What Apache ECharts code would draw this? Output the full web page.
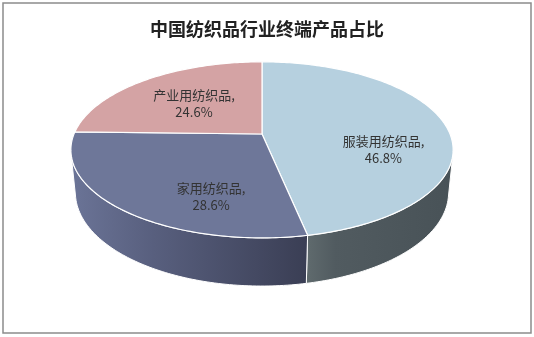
<!DOCTYPE html>
<html><head><meta charset="utf-8">
<script src="https://cdn.jsdelivr.net/npm/echarts@6/dist/echarts.min.js"></script>
<style>html,body{margin:0;padding:0;background:#fff}#c{width:534px;height:337px}</style>
</head><body><div id="c"></div>
<script>
// ---- data ----
const chartTitle = '中国纺织品行业终端产品占比';
const categories = ['服装用纺织品', '家用纺织品', '产业用纺织品'];
const values = [46.8, 28.6, 24.6];

// ---- style config ----
const topColors = ['#b6d0df', '#6e7799', '#d4a3a4'];
const wallStops = [
  [[0, '#606b6e'], [0.2, '#515b60'], [1, '#485257']],
  [[0, '#6b7497'], [0.35, '#585f7e'], [1, '#3a3e54']],
  [[0, '#a07a7b'], [1, '#7a5a5b']]
];
const labelRadius = [0.65, 0.69, 0.54];
const labelShift = [21.6, -19.7, -1.4];
const V = { cx: 262, cy: 134, scale: 188, tiltSin: 0.453, dist: 4.95, height: 0.257 };
const FONT = '"Noto Sans CJK SC", "Noto Sans", sans-serif';

function proj(r, alphaDeg, yw) {
  const al = alphaDeg * Math.PI / 180;
  const a = r * Math.sin(al), b = r * Math.cos(al);
  const s = V.tiltSin, c = Math.sqrt(1 - s * s);
  const Y = yw * c + b * s;
  const depth = V.dist + b * c - yw * s;
  const F = V.scale * V.dist;
  return [V.cx + F * a / depth, V.cy - F * Y / depth];
}
function area(pts) {
  let s = 0;
  for (let i = 0; i < pts.length; i++) {
    const p = pts[i], q = pts[(i + 1) % pts.length];
    s += p[0] * q[1] - q[0] * p[1];
  }
  return s / 2;
}
function quadSign(a1, a2) {
  const h = -V.height;
  return Math.sign(area([proj(1, a1, 0), proj(1, a2, 0), proj(1, a2, h), proj(1, a1, h)]));
}
// visible wall range
const frontSign = quadSign(179.5, 180.5);
let wMin = 180, wMax = 180;
for (let a = 180; a > 0; a -= 0.25) { if (quadSign(a - 0.25, a) === frontSign) wMin = a - 0.25; else break; }
for (let a = 180; a < 360; a += 0.25) { if (quadSign(a, a + 0.25) === frontSign) wMax = a + 0.25; else break; }

function arc(r, s, e, yw) {
  const pts = [];
  const n = Math.max(2, Math.ceil(Math.abs(e - s) / 1));
  for (let i = 0; i <= n; i++) pts.push(proj(r, s + (e - s) * i / n, yw));
  return pts;
}

const total = values.reduce((x, y) => x + y, 0);
const starts = [];
{ let acc = 0; values.forEach(v => { starts.push(acc / total * 360); acc += v; }); }

const chart = echarts.init(document.getElementById('c'), null, { renderer: 'canvas' });
chart.setOption({
  backgroundColor: '#fff',
  animation: false,
  title: {
    text: chartTitle, left: 'center', top: 15,
    textStyle: { fontSize: 18, fontWeight: 'bold', color: '#222', fontFamily: FONT }
  },
  graphic: [{
    type: 'rect', shape: { x: 3, y: 3, width: 528, height: 330 },
    style: { fill: 'none', stroke: '#8c8c8c', lineWidth: 1.5 }, z: 100
  }],
  series: [{
    type: 'custom',
    coordinateSystem: 'none',
    data: values.map((v, i) => ({ name: categories[i], value: [v, i] })),
    renderItem: function (params, api) {
      const v = api.value(0), i = api.value(1);
      const s = starts[i], e = s + v / total * 360;
      const children = [];
      // wall
      const ws = Math.max(s, wMin), we = Math.min(e, wMax);
      if (we > ws) {
        const pts = arc(1, ws, we, 0).concat(arc(1, we, ws, -V.height));
        children.push({
          type: 'polygon', z2: 1,
          shape: { points: pts },
          style: {
            fill: new echarts.graphic.LinearGradient(0, 0, 1, 0,
              wallStops[i].map(st => ({ offset: st[0], color: st[1] }))),
            stroke: '#ffffff', lineWidth: 1
          }
        });
      }
      // top
      const tp = [proj(0, 0, 0)].concat(arc(1, s, e, 0));
      children.push({
        type: 'polygon', z2: 2,
        shape: { points: tp },
        style: { fill: topColors[i], stroke: '#ffffff', lineWidth: 1.2 }
      });
      // label
      const mid = (s + e) / 2 + labelShift[i];
      const lp = proj(labelRadius[i], mid, 0);
      children.push({
        type: 'text', z2: 3,
        style: {
          text: categories[i] + ',\n' + v.toFixed(1) + '%',
          x: lp[0], y: lp[1], align: 'center', verticalAlign: 'middle',
          font: '13px ' + FONT, fill: '#333', lineHeight: 17
        }
      });
      return { type: 'group', children: children };
    }
  }]
});
</script>
</body></html>
